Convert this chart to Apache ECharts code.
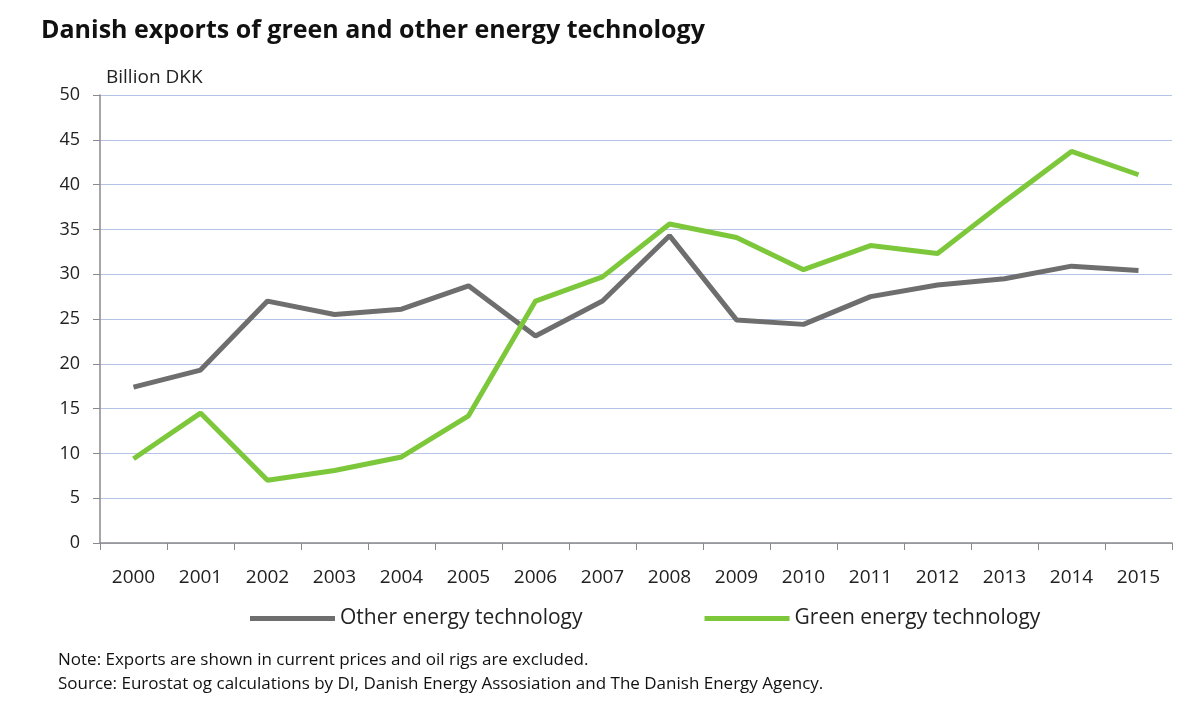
<!DOCTYPE html>
<html>
<head>
<meta charset="UTF-8">
<title>Danish exports of green and other energy technology</title>
<script src="https://cdn.jsdelivr.net/npm/echarts@6/dist/echarts.min.js"></script>
<style>
  body { margin: 0; background: #fff; }
  #chart { width: 1200px; height: 704px; }
</style>
</head>
<body>
<div id="chart"></div>
<script>
const years = ['2000','2001','2002','2003','2004','2005','2006','2007','2008','2009','2010','2011','2012','2013','2014','2015'];
const otherEnergy = [17.4, 19.3, 27.0, 25.5, 26.1, 28.7, 23.1, 27.0, 34.3, 24.9, 24.4, 27.5, 28.8, 29.5, 30.9, 30.4];
const greenEnergy = [9.4, 14.5, 7.0, 8.1, 9.6, 14.2, 27.0, 29.7, 35.6, 34.1, 30.5, 33.2, 32.3, 38.1, 43.7, 41.1];

const font = 'Open Sans';
const chart = echarts.init(document.getElementById('chart'));
chart.setOption({
    backgroundColor: '#fff',
    animation: false,
    textStyle: { fontFamily: font },
    title: [
        { text: 'Danish exports of green and other energy technology', left: 36, top: 13,
          textStyle: { fontFamily: font, fontSize: 25, fontWeight: 'bold', color: '#111' } },
        { text: 'Note: Exports are shown in current prices and oil rigs are excluded.\nSource: Eurostat og calculations by DI, Danish Energy Assosiation and The Danish Energy Agency.',
          left: 53, top: 643,
          textStyle: { fontFamily: font, fontSize: 17, fontWeight: 'normal', color: '#111', lineHeight: 24 } }
    ],
    legend: {
        left: 245, top: 603, itemWidth: 85, itemHeight: 5, itemGap: 122, icon: 'rect',
        textStyle: { fontFamily: font, fontSize: 21, color: '#222' },
        data: ['Other energy technology', 'Green energy technology']
    },
    grid: { left: 100, right: 28, top: 95, bottom: 161 },
    xAxis: {
        type: 'category', data: years, boundaryGap: true,
        axisLine: { lineStyle: { color: '#8a8a8a', width: 1.5 } },
        axisTick: { show: true, length: 7, lineStyle: { color: '#8a8a8a' } },
        axisLabel: { fontFamily: font, fontSize: 19, color: '#222', margin: 25 }
    },
    yAxis: {
        type: 'value', min: 0, max: 50, interval: 5,
        name: 'Billion DKK', nameLocation: 'end', nameGap: 8,
        nameTextStyle: { fontFamily: font, fontSize: 19, color: '#222', align: 'left', padding: [0, 0, 0, 6] },
        axisLine: { show: true, lineStyle: { color: '#8a8a8a', width: 1.5 } },
        axisTick: { show: true, length: 7, inside: false, lineStyle: { color: '#8a8a8a' } },
        axisLabel: { fontFamily: font, fontSize: 18, color: '#222', margin: 20 },
        splitLine: { lineStyle: { color: '#b4c3e6', width: 1.2 } }
    },
    series: [
        { name: 'Other energy technology', type: 'line', data: otherEnergy, symbol: 'none',
          color: '#6e6e6e', lineStyle: { width: 5, color: '#6e6e6e' } },
        { name: 'Green energy technology', type: 'line', data: greenEnergy, symbol: 'none',
          color: '#7dc73a', lineStyle: { width: 5, color: '#7dc73a' } }
    ]
});
</script>
</body>
</html>
